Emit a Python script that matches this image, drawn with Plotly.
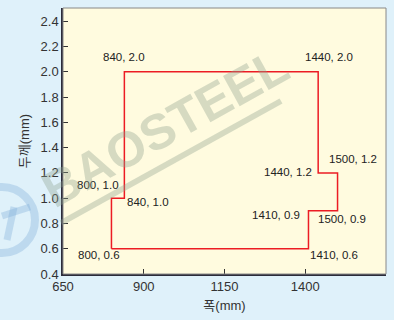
import plotly.graph_objects as go

# Data: boundary of the size window (width mm, thickness mm)
width_mm = [800, 800, 840, 840, 1440, 1440, 1500, 1500, 1410, 1410, 800]
thick_mm = [0.6, 1.0, 1.0, 2.0, 2.0, 1.2, 1.2, 0.9, 0.9, 0.6, 0.6]

# Corner labels (point x, point y)
label_x = [840, 1440, 800, 840, 800, 1440, 1500, 1410, 1500, 1410]
label_y = [2.0, 2.0, 1.0, 1.0, 0.6, 1.2, 1.2, 0.9, 0.9, 0.6]

x_ticks = [650, 900, 1150, 1400, 1650]
y_ticks = [0.4, 0.6, 0.8, 1.0, 1.2, 1.4, 1.6, 1.8, 2.0, 2.2, 2.4]

# pixel offsets of each label relative to its corner
offsets = [(0, 15), (11, 15), (-13, 13), (24, -4), (-12, -6),
           (-30, 1), (15, 14), (-32, -4), (4, -8), (26, -6)]

FONT = "Liberation Sans, Arial, Noto Sans CJK KR, sans-serif"
WM = "rgba(140,160,140,0.36)"
LOGO = "rgba(120,170,215,0.33)"

fig = go.Figure()
fig.add_trace(go.Scatter(
    x=width_mm, y=thick_mm, mode="lines",
    line=dict(color="#ec1c24", width=1.5),
    hoverinfo="skip", showlegend=False,
))

annotations = []
for (lx, ly), (dx, dy) in zip(zip(label_x, label_y), offsets):
    annotations.append(dict(
        x=lx, y=ly, xref="x", yref="y",
        text=f"{lx}, {ly:.1f}", showarrow=False,
        xshift=dx, yshift=dy,
        font=dict(family=FONT, size=11.5, color="#222222"),
    ))

# watermark
annotations.append(dict(
    x=0.315, y=0.55, xref="paper", yref="paper",
    xanchor="center", yanchor="middle",
    text="<b>BAOSTEEL</b>", showarrow=False, textangle=-29,
    font=dict(family="Liberation Sans, Arial, sans-serif", size=50, color=WM),
))

def px(xp):
    return (xp - 63) / 323

def py(yp):
    return (274 - yp) / 266

fig.update_layout(
    width=394, height=320,
    margin=dict(l=63, r=8, t=8, b=46),
    paper_bgcolor="#dff1fa",
    plot_bgcolor="#fffbdf",
    font=dict(family=FONT, size=13, color="#333333"),
    annotations=annotations,
    shapes=[
        dict(type="circle", xref="paper", yref="paper",
             x0=px(-31), x1=px(35), y0=py(253), y1=py(187),
             line=dict(color=LOGO, width=8), layer="below"),
        dict(type="line", xref="paper", yref="paper",
             x0=px(2), y0=py(216), x1=px(30), y1=py(207),
             line=dict(color=LOGO, width=7), layer="below"),
        dict(type="line", xref="paper", yref="paper",
             x0=px(14), y0=py(207), x1=px(7), y1=py(240),
             line=dict(color=LOGO, width=7), layer="below"),
        dict(type="line", xref="paper", yref="paper",
             x0=px(61), y0=py(223), x1=px(281), y1=py(101),
             line=dict(color=WM, width=6), layer="above"),
        dict(type="rect", xref="paper", yref="paper",
             x0=0, x1=1, y0=0, y1=1,
             line=dict(color="#888888", width=1), layer="above"),
    ],
)

fig.update_xaxes(
    range=[650, 1650], tickvals=x_ticks, ticktext=[str(v) for v in x_ticks],
    ticks="inside", ticklen=5, tickcolor="#333333",
    showline=True, linecolor="#2b2b3a", linewidth=1.5,
    showgrid=False, zeroline=False, automargin=False,
    title=dict(text="폭(mm)", font=dict(size=13, color="#333333"), standoff=8),
)
fig.update_yaxes(
    range=[0.4, 2.505], tickvals=y_ticks, ticktext=[f"{v:.1f}" for v in y_ticks],
    ticks="inside", ticklen=5, tickcolor="#333333",
    showline=True, linecolor="#2b2b3a", linewidth=1.5,
    showgrid=False, zeroline=False, automargin=False,
    title=dict(text="두께(mm)", font=dict(size=13, color="#333333"), standoff=8),
)

fig.write_html(
    "out.html",
    config={"displayModeBar": False},
    post_script="document.body.style.margin='0';document.body.style.background='#dff1fa';",
)
